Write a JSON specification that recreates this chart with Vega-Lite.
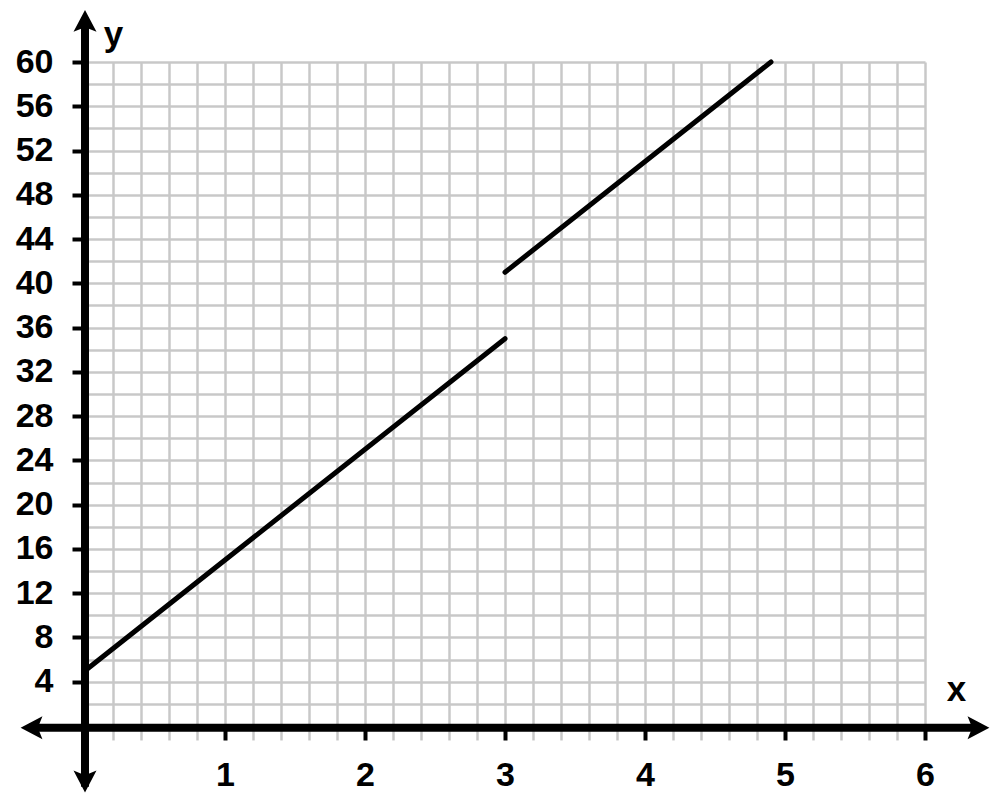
{
  "$schema": "https://vega.github.io/schema/vega-lite/v6.json",
  "width": 840,
  "height": 664,
  "autosize": "none",
  "padding": {"left": 85, "top": 62, "right": 75, "bottom": 81},
  "background": "white",
  "config": {"view": {"stroke": null}},
  "datasets": {
    "segments": [
      {"segment": "a", "x": 0, "y": 5},
      {"segment": "a", "x": 3, "y": 35},
      {"segment": "b", "x": 3, "y": 41},
      {"segment": "b", "x": 4.9, "y": 60}
    ],
    "axisLines": [
      {"x": 0, "x2": 0, "y": -5.5, "y2": 64},
      {"x": -0.4, "x2": 6.4, "y": -0.15, "y2": -0.15}
    ],
    "arrows": [
      {"x": 0, "y": 64.7, "angle": 0},
      {"x": 6.46, "y": -0.15, "angle": 90},
      {"x": 0, "y": -6.0, "angle": 180},
      {"x": -0.46, "y": -0.15, "angle": 270}
    ]
  },
  "encoding": {
    "x": {
      "field": "x",
      "type": "quantitative",
      "scale": {"domain": [0, 6], "nice": false, "zero": false},
      "axis": {
        "values": [0, 0.2, 0.4, 0.6, 0.8, 1, 1.2, 1.4, 1.6, 1.8, 2, 2.2, 2.4, 2.6, 2.8, 3, 3.2, 3.4, 3.6, 3.8, 4, 4.2, 4.4, 4.6, 4.8, 5, 5.2, 5.4, 5.6, 5.8, 6],
        "grid": true,
        "gridColor": "#c8c8c8",
        "gridWidth": 2.5,
        "domain": false,
        "tickSize": 14,
        "tickColor": {"condition": {"test": "datum.value % 1 === 0", "value": "black"}, "value": "#c8c8c8"},
        "tickWidth": {"condition": {"test": "datum.value % 1 === 0", "value": 4}, "value": 2.5},
        "labelExpr": "datum.value > 0 && datum.value % 1 === 0 ? format(datum.value, 'd') : ''",
        "labelOverlap": false,
        "labelFlush": false,
        "labelBound": false,
        "labelFont": "Arial",
        "labelFontWeight": "bold",
        "labelFontSize": 34,
        "labelColor": "black",
        "labelPadding": 18,
        "title": "x",
        "titleX": 871,
        "titleY": -26,
        "titleAlign": "center",
        "titleBaseline": "alphabetic",
        "titleFont": "Arial",
        "titleFontWeight": "bold",
        "titleFontSize": 35,
        "titleColor": "black"
      }
    },
    "y": {
      "field": "y",
      "type": "quantitative",
      "scale": {"domain": [0, 60], "nice": false, "zero": false},
      "axis": {
        "values": [0, 2, 4, 6, 8, 10, 12, 14, 16, 18, 20, 22, 24, 26, 28, 30, 32, 34, 36, 38, 40, 42, 44, 46, 48, 50, 52, 54, 56, 58, 60],
        "grid": true,
        "gridColor": "#c8c8c8",
        "gridWidth": 2.5,
        "domain": false,
        "tickSize": 13,
        "tickColor": {"condition": {"test": "datum.value % 4 === 0", "value": "black"}, "value": "transparent"},
        "tickWidth": 4,
        "labelExpr": "datum.value > 0 && datum.value % 4 === 0 ? format(datum.value, 'd') : ''",
        "labelOverlap": false,
        "labelFlush": false,
        "labelBound": false,
        "labelFont": "Arial",
        "labelFontWeight": "bold",
        "labelFontSize": 34,
        "labelColor": "black",
        "labelPadding": 19,
        "title": "y",
        "titleX": 28,
        "titleY": -17,
        "titleAngle": 0,
        "titleAlign": "center",
        "titleBaseline": "alphabetic",
        "titleFont": "Arial",
        "titleFontWeight": "bold",
        "titleFontSize": 35,
        "titleColor": "black"
      }
    }
  },
  "layer": [
    {
      "data": {"name": "segments"},
      "mark": {"type": "line", "color": "black", "strokeWidth": 5, "strokeCap": "round"},
      "encoding": {"detail": {"field": "segment", "type": "nominal"}}
    },
    {
      "data": {"name": "axisLines"},
      "mark": {"type": "rule", "color": "black", "strokeWidth": 8},
      "encoding": {
        "x2": {"field": "x2"},
        "y2": {"field": "y2"}
      }
    },
    {
      "data": {"name": "arrows"},
      "mark": {"type": "point", "shape": "M0,0L1,1.9L0,1.5L-1,1.9Z", "filled": true, "color": "black", "size": 529, "opacity": 1, "strokeWidth": 0},
      "encoding": {
        "angle": {"field": "angle", "type": "quantitative", "scale": null}
      }
    }
  ]
}
